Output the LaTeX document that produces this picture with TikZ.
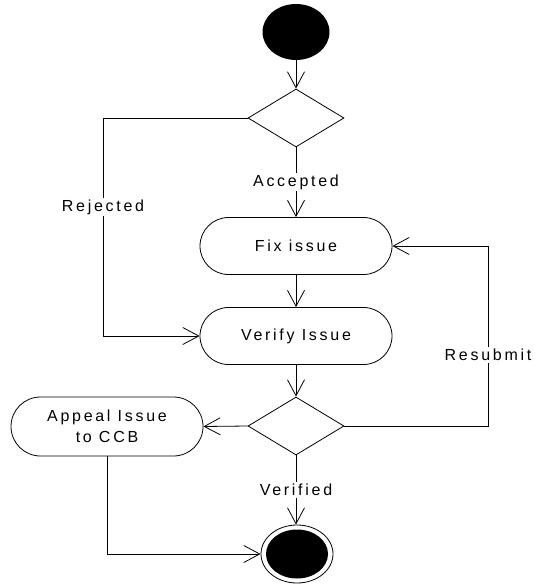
\documentclass[tikz,border=0pt]{standalone}
\usepackage{fontspec}
\setmainfont{Liberation Sans}[LetterSpace=17]
\usetikzlibrary{shapes.geometric,shapes.misc,arrows.meta}
\begin{document}
\begin{tikzpicture}[x=1pt,y=1pt,
  every node/.style={font=\fontsize{16}{21}\selectfont},
  act/.style={draw,rounded rectangle,minimum width=192pt,minimum height=57pt,inner sep=0pt,line width=0.8pt},
  dec/.style={draw,diamond,minimum width=96pt,minimum height=58pt,inner sep=0pt,line width=0.8pt},
  lab/.style={fill=white,inner sep=2pt},
  arr/.style={line width=0.8pt,-{Straight Barb[length=16pt,width=17pt,line width=0.8pt]}},
  ln/.style={line width=0.8pt}]
\useasboundingbox (0,0) rectangle (535,-585);
\node[ellipse,fill=black,minimum width=67pt,minimum height=56pt,inner sep=0pt] (start) at (296,-32) {};
\node[dec] (d1) at (296,-118) {};
\node[act] (fix) at (296,-246) {Fix issue};
\node[act] (verify) at (296,-336) {Verify Issue};
\node[dec] (d2) at (296,-426) {};
\node[act,minimum height=59pt,align=center] (appeal) at (107,-426.5) {Appeal Issue\\to CCB};
\node[ellipse,draw,line width=0.8pt,minimum width=72pt,minimum height=58pt,inner sep=0pt] (final) at (297,-554) {};
\node[ellipse,fill=black,minimum width=62pt,minimum height=49pt,inner sep=0pt] (finalin) at (297,-554) {};
\coordinate (c1) at (103,-118);
\coordinate (c2) at (488,-426);
\draw[arr] (start.south) -- (d1.north);
\draw[arr] (d1.west) -- (c1) |- (verify.west);
\draw[arr] (d1.south) -- (fix.north);
\draw[arr] (fix.south) -- (verify.north);
\draw[arr] (verify.south) -- (d2.north);
\draw[arr] (d2.west) -- (appeal.east);
\draw[arr] (d2.east) -- (c2) |- (fix.east);
\draw[arr] (d2.south) -- (d2.south |- final.north);
\draw[arr] (appeal.south) |- (final.west);
\node[lab] (lrej) at (103,-207) {Rejected};
\node[lab] (lacc) at (296,-182) {Accepted};
\node[lab] (lres) at (488,-355) {Resubmit};
\node[lab] (lver) at (296,-490) {Verified};
\end{tikzpicture}
\end{document}
